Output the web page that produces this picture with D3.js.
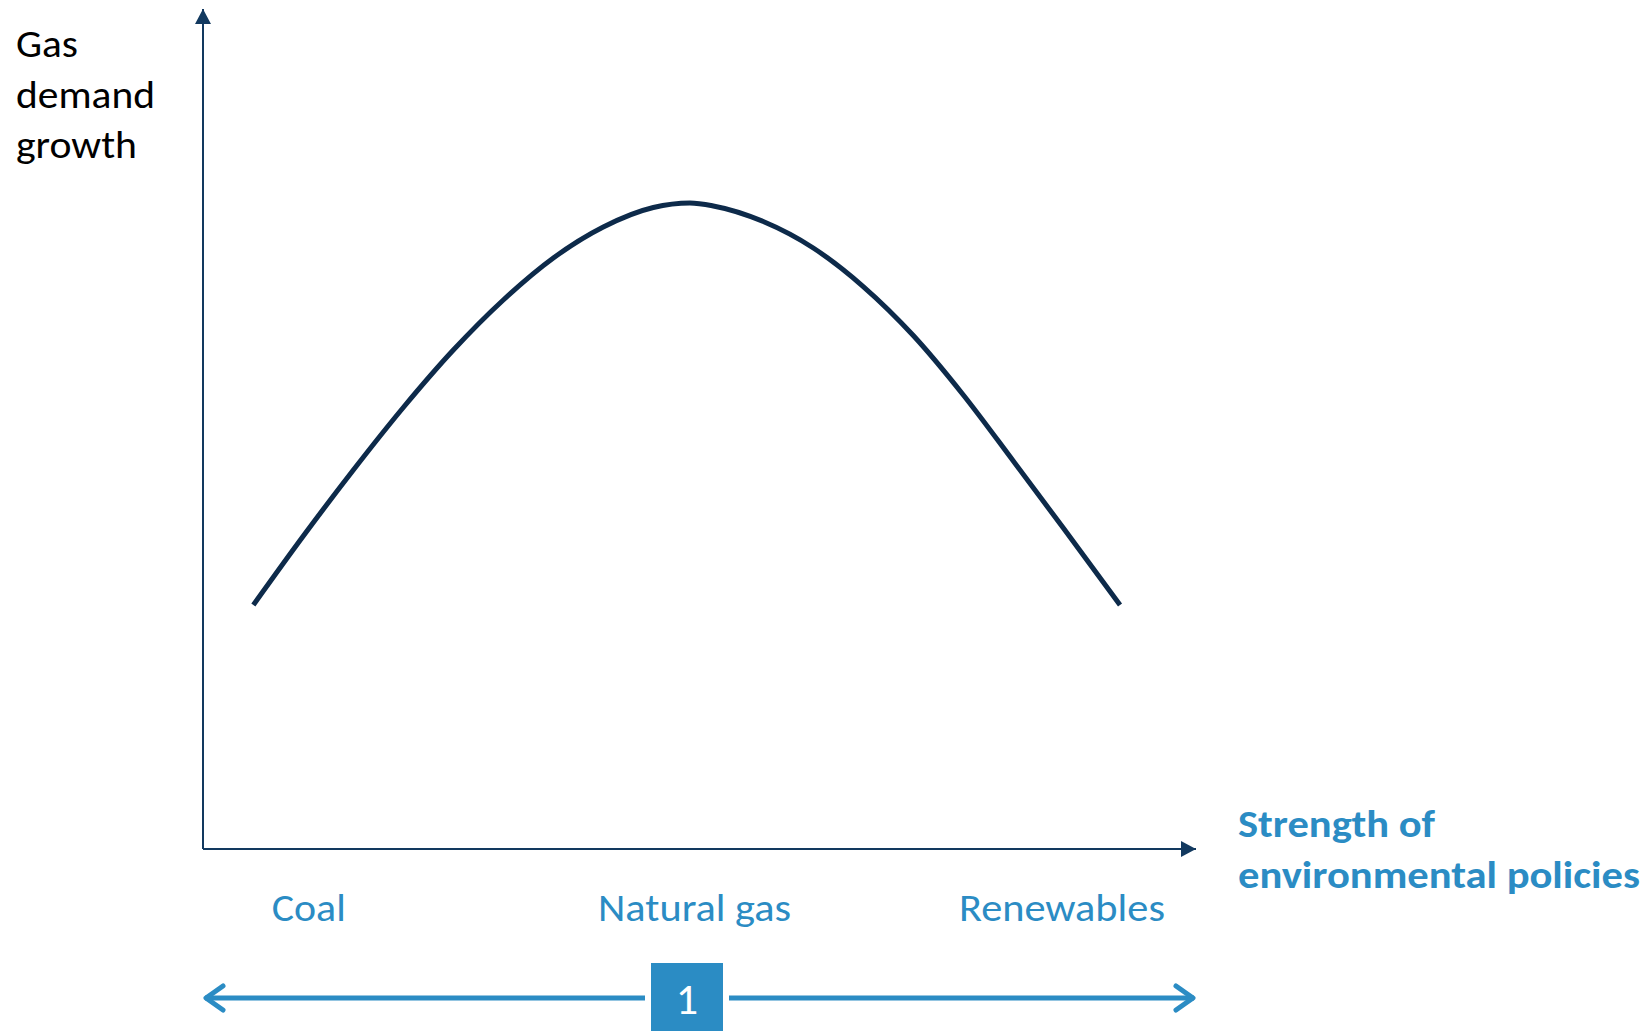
<!DOCTYPE html>
<html>
<head>
<meta charset="utf-8">
<script src="https://cdn.jsdelivr.net/npm/d3@7"></script>
<style>
  html, body { margin: 0; padding: 0; background: #ffffff; }
  svg { display: block; }
  text { font-family: Carlito, Calibri, Lato, "Open Sans", sans-serif; }
</style>
</head>
<body>
<svg id="chart" width="1647" height="1031"></svg>
<script>
// Policy strength (0-100 along x axis) and gas demand growth (0-100 along y axis)
const policyStrength = [5.07, 10.10, 15.14, 20.17, 25.21, 30.24, 35.28, 40.31, 45.35, 49.04, 51.39, 56.42, 61.46, 66.49, 71.53, 76.57, 81.60, 86.64, 92.35];
const gasDemand      = [29.05, 37.26, 45.12, 52.56, 59.40, 65.36, 70.36, 74.05, 76.37, 76.90, 76.55, 74.70, 71.55, 66.96, 61.13, 54.05, 46.19, 38.21, 29.05];

const categories = ["Coal", "Natural gas", "Renewables"];
const categoryPos = [10.65, 49.5, 86.5];
const categoryWidth = [74, 193, 206];
const yLabelLines = ["Gas", "demand", "growth"];
const yLabelWidth = [62, 139, 121];
const xLabelLines = ["Strength of", "environmental policies"];
const xLabelWidth = [197, 402];
const badgeLabel = "1";

const svg = d3.select("#chart");

const x = d3.scaleLinear().domain([0, 100]).range([203, 1196]);
const y = d3.scaleLinear().domain([0, 100]).range([849, 9]);

const axisColor = "#12395f";
const curveColor = "#0d2a4a";
const blue = "#2b8cc4";

// Axes
svg.append("line")
  .attr("x1", x(0)).attr("y1", y(0))
  .attr("x2", x(0)).attr("y2", y(100))
  .attr("stroke", axisColor).attr("stroke-width", 2);
svg.append("path")
  .attr("d", `M${x(0)-8},${y(100)+15} L${x(0)},${y(100)} L${x(0)+8},${y(100)+15} Z`)
  .attr("fill", axisColor);

svg.append("line")
  .attr("x1", x(0)).attr("y1", y(0))
  .attr("x2", x(100)).attr("y2", y(0))
  .attr("stroke", axisColor).attr("stroke-width", 2);
svg.append("path")
  .attr("d", `M${x(100)-15},${y(0)-8} L${x(100)},${y(0)} L${x(100)-15},${y(0)+8} Z`)
  .attr("fill", axisColor);

// Curve
const pts = policyStrength.map((v, i) => [v, gasDemand[i]]);
const line = d3.line().x(d => x(d[0])).y(d => y(d[1])).curve(d3.curveMonotoneX);
svg.append("path")
  .datum(pts)
  .attr("d", line)
  .attr("fill", "none")
  .attr("stroke", curveColor)
  .attr("stroke-width", 5);

// Y label
yLabelLines.forEach((t, i) => {
  svg.append("text")
    .attr("x", 16).attr("y", 57 + i * 50.5)
    .attr("fill", "#000").attr("font-size", 39)
    .attr("textLength", yLabelWidth[i]).attr("lengthAdjust", "spacingAndGlyphs")
    .text(t);
});

// X label
xLabelLines.forEach((t, i) => {
  svg.append("text")
    .attr("x", 1238).attr("y", 837 + i * 51)
    .attr("fill", blue).attr("font-size", 39).attr("font-weight", "bold")
    .attr("textLength", xLabelWidth[i]).attr("lengthAdjust", "spacingAndGlyphs")
    .text(t);
});

// Category labels
svg.selectAll("text.cat")
  .data(categories)
  .join("text")
  .attr("class", "cat")
  .attr("x", (d, i) => x(categoryPos[i]) - categoryWidth[i] / 2)
  .attr("y", 921)
  .attr("fill", blue)
  .attr("font-size", 39)
  .attr("textLength", (d, i) => categoryWidth[i])
  .attr("lengthAdjust", "spacingAndGlyphs")
  .text(d => d);

// Bottom double arrow with badge
const ay = 998;
const boxX0 = 651, boxX1 = 723;
svg.append("line")
  .attr("x1", x(0) + 2).attr("y1", ay).attr("x2", boxX0 - 6).attr("y2", ay)
  .attr("stroke", blue).attr("stroke-width", 5);
svg.append("line")
  .attr("x1", boxX1 + 6).attr("y1", ay).attr("x2", x(100) - 2).attr("y2", ay)
  .attr("stroke", blue).attr("stroke-width", 5);
svg.append("path")
  .attr("d", `M${x(0)+20},${ay-12} L${x(0)+3},${ay} L${x(0)+20},${ay+12}`)
  .attr("fill", "none").attr("stroke", blue).attr("stroke-width", 5)
  .attr("stroke-linecap", "round").attr("stroke-linejoin", "round");
svg.append("path")
  .attr("d", `M${x(100)-20},${ay-12} L${x(100)-3},${ay} L${x(100)-20},${ay+12}`)
  .attr("fill", "none").attr("stroke", blue).attr("stroke-width", 5)
  .attr("stroke-linecap", "round").attr("stroke-linejoin", "round");
svg.append("rect")
  .attr("x", boxX0).attr("y", 963).attr("width", boxX1 - boxX0).attr("height", 70)
  .attr("fill", blue);
svg.append("text")
  .attr("x", (boxX0 + boxX1) / 2).attr("y", 1014)
  .attr("text-anchor", "middle")
  .attr("fill", "#fff")
  .attr("font-size", 44)
  .text(badgeLabel);
</script>
</body>
</html>
